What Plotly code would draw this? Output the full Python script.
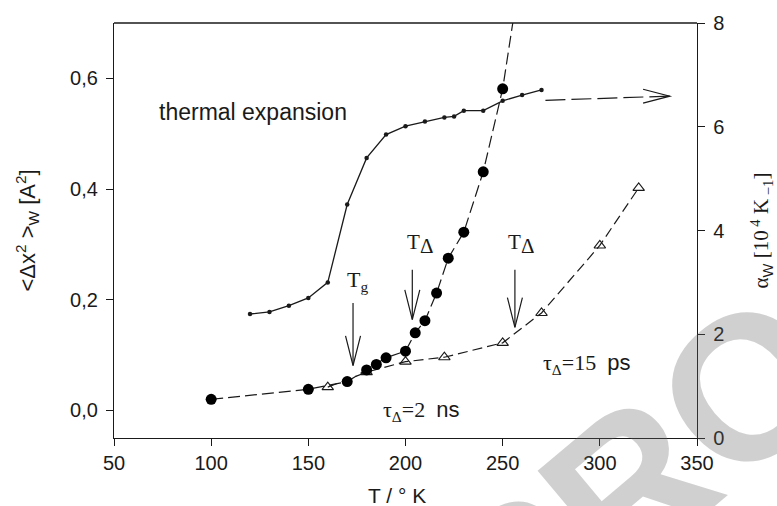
import plotly.graph_objects as go

# ---------------- data ----------------
# filled circles, tau_Delta = 2 ns (left axis)
T_ns = [100, 150, 170, 180, 185, 190, 200, 205, 210, 216, 222, 230, 240, 250, 260]
msd_ns = [0.020, 0.038, 0.052, 0.073, 0.083, 0.095, 0.107, 0.140, 0.162, 0.212, 0.275, 0.322, 0.431, 0.581, 0.81]

# open triangles, tau_Delta = 15 ps (left axis)
T_ps = [160, 180, 200, 220, 250, 270, 300, 320]
msd_ps = [0.042, 0.069, 0.088, 0.096, 0.122, 0.176, 0.298, 0.402]

# thermal expansion coefficient (right axis)
T_th = [120, 130, 140, 150, 160, 170, 180, 190, 200, 210, 220, 225, 230, 240, 250, 260, 270]
alpha_th = [2.39, 2.43, 2.55, 2.70, 3.00, 4.50, 5.40, 5.85, 6.01, 6.10, 6.18, 6.20, 6.31, 6.31, 6.50, 6.61, 6.71]

# tick labels
x_ticks = [50, 100, 150, 200, 250, 300, 350]
y_ticks = [0.0, 0.2, 0.4, 0.6]
y_ticktext = ["0,0", "0,2", "0,4", "0,6"]
y2_ticks = [0, 2, 4, 6, 8]

# vertical marker arrows (Tg, T_Delta, T_Delta): x, top, tip (left axis units)
arrow_T = [173, 203.5, 256.3]
arrow_top = [0.194, 0.254, 0.254]
arrow_tip = [0.081, 0.164, 0.150]

# thermal-expansion pointer arrow (right axis units)
th_arrow_T = [272, 336]
th_arrow_a = [6.51, 6.59]

# ---------------- geometry ----------------
W, H = 777, 506
ML, MR, MT, MB = 114, 80, 18, 68
XR = [50, 350]
YR = [-0.05, 0.70]
Y2R = [0, 8]
pw = W - ML - MR
ph = H - MT - MB
px_x = pw / (XR[1] - XR[0])      # px per T unit
px_y = ph / (YR[1] - YR[0])      # px per left unit
px_y2 = ph / (Y2R[1] - Y2R[0])   # px per right unit

def pxx(p):   # pixel x -> paper
    return (p - ML) / pw

def pxy(p):   # pixel y -> paper
    return (H - MB - p) / ph

INK = "#1a1a1a"
SANS = "Liberation Sans, Arial, sans-serif"
SERIF = "Liberation Serif, Times New Roman, serif"

fig = go.Figure()

fig.add_trace(go.Scatter(
    x=T_th, y=alpha_th, yaxis="y2", mode="lines+markers",
    line=dict(color=INK, width=1.3),
    marker=dict(color=INK, size=4.5), showlegend=False))

fig.add_trace(go.Scatter(
    x=T_ps, y=msd_ps, mode="lines+markers",
    line=dict(color=INK, width=1.2, dash="10px,5px"),
    marker=dict(symbol="triangle-up-open", color=INK, size=10, line=dict(width=1.1)),
    showlegend=False))

fig.add_trace(go.Scatter(
    x=T_ns, y=msd_ns, mode="lines+markers",
    line=dict(color=INK, width=1.2, dash="12px,5px"),
    marker=dict(symbol="circle", color="#000000", size=11),
    showlegend=False))

shapes = []
# vertical arrows
hl = 30 / px_y
hw = 7.5 / px_x
for t, top, tip in zip(arrow_T, arrow_top, arrow_tip):
    shapes.append(dict(type="line", xref="x", yref="y", x0=t, x1=t, y0=top, y1=tip,
                       line=dict(color=INK, width=1.2)))
    shapes.append(dict(type="path", xref="x", yref="y",
                       path=f"M{t-hw},{tip+hl} L{t},{tip} L{t+hw},{tip+hl}",
                       line=dict(color=INK, width=1.2)))
# thermal expansion pointer
shapes.append(dict(type="line", xref="x", yref="y2",
                   x0=th_arrow_T[0], x1=th_arrow_T[1], y0=th_arrow_a[0], y1=th_arrow_a[1],
                   line=dict(color=INK, width=1.2, dash="20px,6px")))
ahl = 26.7 / px_x
ahw = 7 / px_y2
tx, ta = th_arrow_T[1], th_arrow_a[1]
shapes.append(dict(type="path", xref="x", yref="y2",
                   path=f"M{tx-ahl},{ta+ahw} L{tx},{ta} L{tx-ahl},{ta-ahw}",
                   line=dict(color=INK, width=1.2)))
# top frame
shapes.append(dict(type="line", xref="paper", yref="paper", x0=0, x1=1, y0=1, y1=1,
                   line=dict(color=INK, width=1.3)))

annotations = [
    # translucent watermark (lets the dark lines show through)
    dict(text="<b>PROOF</b>", xref="paper", yref="paper", x=pxx(746), y=pxy(386),
         showarrow=False, textangle=-40, xanchor="center", yanchor="middle",
         font=dict(family=SANS, size=205, color="rgba(100,100,100,0.3)")),
    dict(text="thermal expansion", xref="x", yref="y", x=72, y=0.54, showarrow=False,
         xanchor="left", yanchor="middle", font=dict(family=SANS, size=23, color=INK)),
    dict(text="T<sub>g</sub>", xref="x", yref="y", x=175.5, y=0.234, showarrow=False,
         xanchor="center", yanchor="middle", font=dict(family=SERIF, size=22, color=INK)),
]
# T_Delta labels: T and a slightly lowered Delta
for tx_lab in [207.5, 259.4]:
    annotations.append(dict(text="T", xref="x", yref="y", x=tx_lab + 1.0, y=0.304, showarrow=False,
                            xanchor="right", yanchor="middle", font=dict(family=SERIF, size=21, color=INK)))
    annotations.append(dict(text="Δ", xref="x", yref="y", x=tx_lab - 1.0, y=0.297, showarrow=False,
                            xanchor="left", yanchor="middle", font=dict(family=SERIF, size=21, color=INK)))
annotations += [
    dict(text="τ<sub>Δ</sub>=2  <span style='font-family:Liberation Sans'>ns</span>",
         xref="x", yref="y", x=187.5, y=-0.002, showarrow=False,
         xanchor="left", yanchor="middle", font=dict(family=SERIF, size=22, color=INK)),
    dict(text="τ<sub>Δ</sub>=15  <span style='font-family:Liberation Sans'>ps</span>",
         xref="x", yref="y", x=269.5, y=0.084, showarrow=False,
         xanchor="left", yanchor="middle", font=dict(family=SERIF, size=22, color=INK)),
    # axis titles
    dict(text="T / ° K", xref="paper", yref="paper", x=pxx(397), y=pxy(496),
         showarrow=False, xanchor="center", yanchor="middle",
         font=dict(family=SANS, size=21, color=INK)),
    dict(text="&lt;Δx<sup>2</sup> &gt;<sub>W</sub> [A<sup>2</sup>]", xref="paper", yref="paper",
         x=pxx(27), y=0.5, showarrow=False, textangle=-90,
         xanchor="center", yanchor="middle", font=dict(family=SANS, size=22, color=INK)),
    dict(text="α<sub><span style='font-family:Liberation Sans'>W</span></sub> [10<sup> 4</sup> K<sub> −1</sub>]",
         xref="paper", yref="paper",
         x=pxx(761), y=0.5, showarrow=False, textangle=-90,
         xanchor="center", yanchor="middle", font=dict(family=SERIF, size=21, color=INK)),
]

axis_common = dict(showgrid=False, zeroline=False, showline=True, linecolor=INK, linewidth=1.3,
                   ticks="outside", ticklen=7, tickwidth=1.2, tickcolor=INK,
                   tickfont=dict(family=SANS, size=20, color=INK))

fig.update_layout(
    width=W, height=H,
    margin=dict(l=ML, r=MR, t=MT, b=MB),
    paper_bgcolor="white", plot_bgcolor="white",
    xaxis=dict(range=XR, tickvals=x_ticks, **axis_common),
    yaxis=dict(range=YR, tickvals=y_ticks, ticktext=y_ticktext, ticklabelstandoff=4, **axis_common),
    yaxis2=dict(range=Y2R, tickvals=y2_ticks, overlaying="y", side="right", ticklabelstandoff=4,
                **axis_common),
    shapes=shapes,
    annotations=annotations,
    showlegend=False,
)

fig.write_html("out.html", config={"displayModeBar": False},
               post_script="document.body.style.margin='0';document.body.style.overflow='hidden';")
